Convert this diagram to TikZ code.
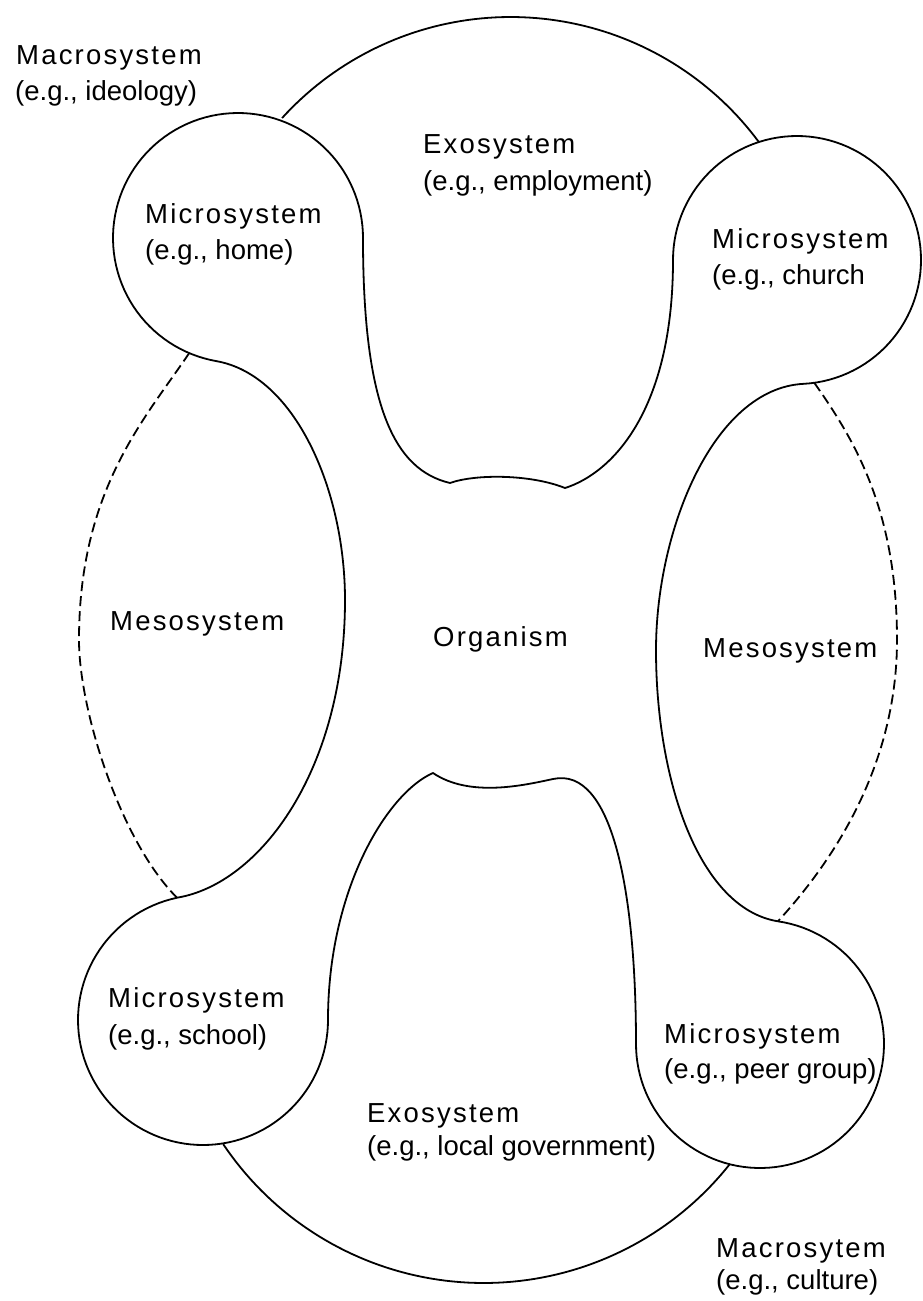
\documentclass[tikz,border=0pt]{standalone}
\usepackage{fontspec}
\setmainfont{Liberation Sans}
\newfontfamily\trackfont[LetterSpace=8]{Liberation Sans}
\tikzset{
  outline/.style={line width=1.8pt, line join=round},
  mesoedge/.style={line width=1.8pt, dash pattern=on 10pt off 5pt},
  lbl/.style={anchor=base west, inner sep=0pt, font=\fontsize{27.5}{36}\selectfont},
  lblt/.style={anchor=base west, inner sep=0pt, font=\trackfont\fontsize{27.5}{36}\selectfont}
}
\begin{document}
\begin{tikzpicture}[x=1pt,y=-1pt]
\fill[white] (0,0) rectangle (923,1301);
\useasboundingbox (0,0) rectangle (923,1301);

% junction points
\coordinate (blTop) at (177,897.7);
\coordinate (tlBot) at (216.3,361.1);
\coordinate (tlDash) at (189.2,353.1);
\coordinate (trDash) at (814.3,382.8);
\coordinate (brTop) at (777.9,921.3);

% main outline: four microsystems, two exosystem bodies, inner mesosystem edges
\draw[outline] (blTop) .. controls (260,884) and (345,770) .. (345,600)
  .. controls (345,490) and (295,375) .. (tlBot)
  -- plot[domain=100:360,samples=90] ({238+125*cos(\x)},{238+125*sin(\x)})
  .. controls (363,408) and (395,470) .. (450,483)
  .. controls (475,474) and (530,474) .. (565,488)
  .. controls (612.5,473) and (673,410) .. (673,260)
  -- plot[domain=180:447,samples=90] ({797+124*cos(\x)},{260+124*sin(\x)})
  .. controls (713.5,388.5) and (656,530) .. (656,650)
  .. controls (656,780) and (698.8,908.4) .. (brTop)
  -- plot[domain=278.3:540,samples=90] ({760+124*cos(\x)},{1044+124*sin(\x)})
  .. controls (636,894) and (613,766) .. (553,779)
  .. controls (525,785) and (470,798) .. (433,773)
  .. controls (387,793) and (328,890) .. (328,1020)
  -- plot[domain=0:258,samples=90] ({203+125*cos(\x)},{1020+125*sin(\x)})
  -- cycle;

% outer arcs of the exosystems
\draw[outline] plot[domain=222.3:323.5,samples=80] ({510.6+309*cos(\x)},{326+309*sin(\x)});
\draw[outline] plot[domain=146.1:38.4,samples=80] ({483.8+314*cos(\x)},{969+314*sin(\x)});

% dashed outer edges of the mesosystems
\draw[mesoedge] (tlDash) .. controls (144.4,419.5) and (79,490) .. (79,640)
  .. controls (79,710) and (120.4,841.1) .. (blTop);
\draw[mesoedge] (trDash) .. controls (854.5,440) and (897,510) .. (897,640)
  .. controls (897,760) and (838.8,855) .. (brTop);

% labels
\node[lblt] (macroA) at (16,64) {Macrosystem};
\node[lbl]  (macroAeg) at (15,100) {(e.g., ideology)};
\node[lblt] (exoA) at (423,153) {Exosystem};
\node[lbl]  (exoAeg) at (423,190) {(e.g., employment)};
\node[lblt] (microA) at (145,223) {Microsystem};
\node[lbl]  (microAeg) at (145,259) {(e.g., home)};
\node[lblt] (microB) at (712,248) {Microsystem};
\node[lbl]  (microBeg) at (712,284) {(e.g., church};
\node[lblt] (mesoA) at (110,630) {Mesosystem};
\node[lblt] (organism) at (433,646) {Organism};
\node[lblt] (mesoB) at (703,657) {Mesosystem};
\node[lblt] (microC) at (108,1007) {Microsystem};
\node[lbl]  (microCeg) at (108,1044) {(e.g., school)};
\node[lblt] (microD) at (664,1043) {Microsystem};
\node[lbl]  (microDeg) at (664,1078) {(e.g., peer group)};
\node[lblt] (exoB) at (367,1122) {Exosystem};
\node[lbl]  (exoBeg) at (367,1155) {(e.g., local government)};
\node[lblt] (macroB) at (716,1257) {Macrosytem};
\node[lbl]  (macroBeg) at (716,1289) {(e.g., culture)};
\end{tikzpicture}
\end{document}
